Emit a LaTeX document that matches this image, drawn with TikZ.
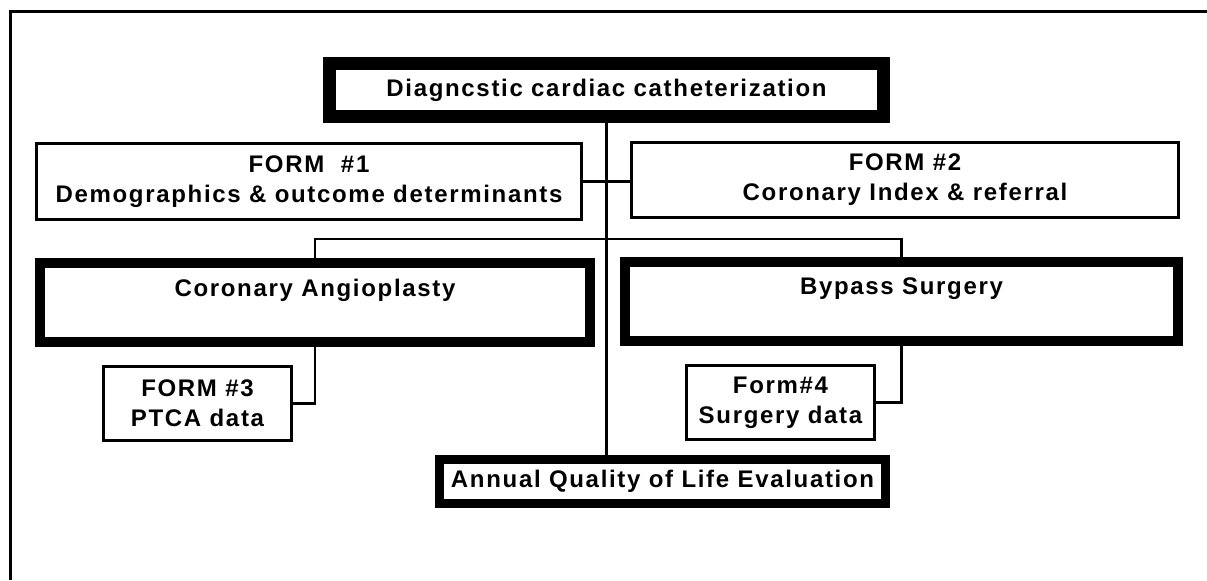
\documentclass[tikz,border=0pt]{standalone}
\usepackage{fontspec}
\usepackage{tikz}
\usetikzlibrary{positioning,calc}
\newfontfamily\chartfont{Liberation Sans}[LetterSpace=7]

\begin{document}
\begin{tikzpicture}[x=0.5pt, y=-0.5pt,
  formbox/.style={draw=black, line width=1.4pt, fill=white, align=center, inner sep=0pt,
    font=\chartfont\bfseries\fontsize{12}{15}\selectfont},
  keybox/.style={formbox, line width=4.8pt},
  link/.style={line width=1.4pt}]
\useasboundingbox (0,0) rectangle (1207,580);
% page frame
\draw[line width=1.5pt] (10,580) -- (10,11) -- (1207,11);

\node[keybox, line width=6.5pt, minimum width=277pt, minimum height=26.5pt] (cath) at (606.5,90) {Diagncstic cardiac catheterization};
\node[formbox, minimum width=272.5pt, minimum height=38pt] (form1) at (309,181.5) {FORM \ \#1\\Demographics \& outcome determinants};
\node[formbox, minimum width=273.5pt, minimum height=37.5pt] (form2) at (905,180) {FORM \#2\\Coronary Index \& referral};
\node[keybox, minimum width=275pt, minimum height=39.5pt] (angio) at (315,302.5) {Coronary Angioplasty\\\mbox{}};
\node[keybox, minimum width=276.5pt, minimum height=39.5pt] (bypass) at (901.5,301.5) {Bypass Surgery\\\mbox{}};
\node[formbox, minimum width=94pt, minimum height=37pt] (form3) at (197.5,403.5) {FORM \#3\\PTCA data};
\node[formbox, minimum width=94pt, minimum height=37pt] (form4) at (780.5,402.5) {Form\#4\\Surgery data};
\node[keybox, minimum width=223pt, minimum height=22pt] (qol) at (662.5,481.5) {Annual Quality of Life Evaluation};

\coordinate (split) at (606,239);
\draw[link] (cath.south) -- (cath.south |- qol.north);
\draw[link] (form1.east) -- (form1.east -| form2.west);
\draw[link] (angio.north) |- (split) -| (bypass.north);
\draw[link] (angio.south) |- (form3.east);
\draw[link] (bypass.south) |- (form4.east);
\end{tikzpicture}
\end{document}
